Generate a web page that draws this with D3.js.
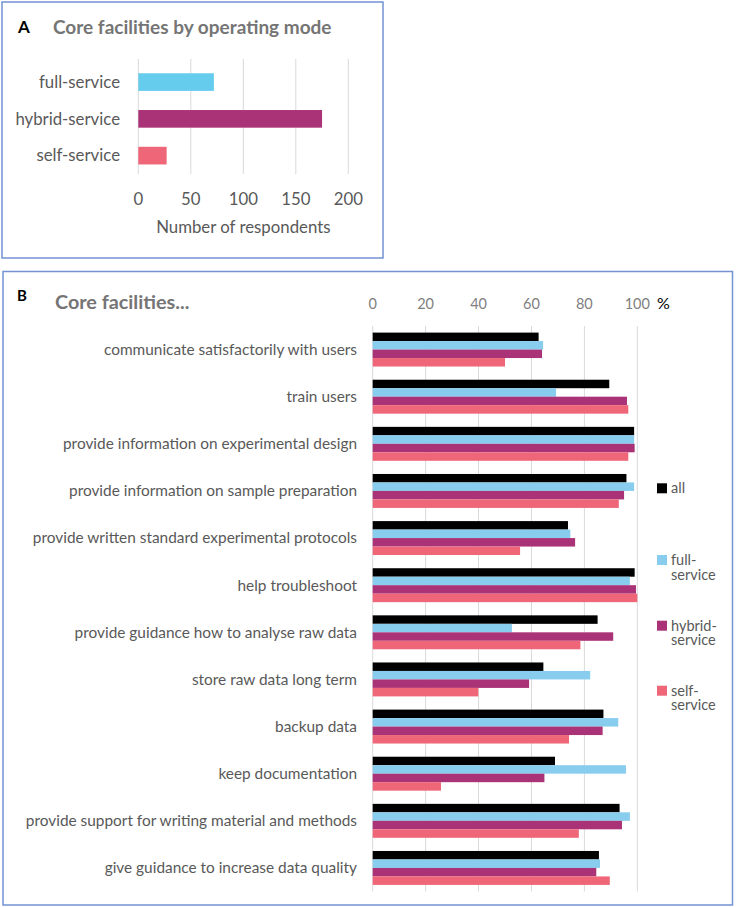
<!DOCTYPE html>
<html><head><meta charset="utf-8">
<script src="https://cdn.jsdelivr.net/npm/d3@7"></script>
<style>
html,body{margin:0;padding:0;background:#fff;}
svg{display:block;font-family:Lato,"Noto Sans",sans-serif;}
</style></head>
<body>
<svg id="chart" width="736" height="907"></svg>
<script>
// Panel A data
const modes = ["full-service", "hybrid-service", "self-service"];
const modeCounts = [72, 175, 27];
const modeColors = ["#66CCEE", "#AA3377", "#EE6677"];
const countTicks = [0, 50, 100, 150, 200];

// Panel B data
const activities = [
  "communicate satisfactorily with users",
  "train users",
  "provide information on experimental design",
  "provide information on sample preparation",
  "provide written standard experimental protocols",
  "help troubleshoot",
  "provide guidance how to analyse raw data",
  "store raw data long term",
  "backup data",
  "keep documentation",
  "provide support for writing material and methods",
  "give guidance to increase data quality"
];
const seriesNames = ["all", "full-service", "hybrid-service", "self-service"];
const legendLines = [["all"], ["full-", "service"], ["hybrid-", "service"], ["self-", "service"]];
const seriesColors = ["#000000", "#88CCEE", "#AA3377", "#EE6677"];
const allVals    = [62.7, 89.4, 98.8, 95.9, 73.8, 99.0, 85.0, 64.5, 87.2, 68.9, 93.3, 85.5];
const fullVals   = [64.4, 69.3, 98.8, 98.8, 74.7, 97.2, 52.6, 82.2, 92.8, 95.7, 97.2, 85.9];
const hybridVals = [64.0, 96.1, 99.0, 95.0, 76.5, 99.5, 90.9, 59.1, 86.9, 64.9, 94.2, 84.5];
const selfVals   = [50.0, 96.6, 96.6, 93.0, 55.7, 100, 78.5, 39.9, 74.2, 25.8, 77.9, 89.6];
const pctTicks = [0, 20, 40, 60, 80, 100];

const svg = d3.select("#chart");
const borderColor = "#7393D3";
const gridColor = "#D9D9D9";
const labelColor = "#595959";
const tickColor = "#7F7F7F";

// ---------- Panel A ----------
svg.append("rect").attr("x", 2).attr("y", 2).attr("width", 381).attr("height", 256)
  .attr("fill", "none").attr("stroke", borderColor).attr("stroke-width", 1.5);
svg.append("text").attr("x", 18).attr("y", 32.5).attr("font-weight", "bold").attr("font-size", 17)
  .attr("fill", "#000").text("A");
svg.append("text").attr("x", 53).attr("y", 34).attr("font-weight", "bold").attr("font-size", 19)
  .attr("fill", "#757575").text("Core facilities by operating mode");

const xA = d3.scaleLinear().domain([0, 200]).range([138.3, 348.3]);
const yA = d3.scaleBand().domain(modes).range([63.7, 174]).paddingInner(0.52).paddingOuter(0.26);
const gA = svg.append("g");
gA.selectAll("line.grid").data(countTicks).join("line")
  .attr("x1", d => xA(d)).attr("x2", d => xA(d)).attr("y1", 59).attr("y2", 174)
  .attr("stroke", gridColor).attr("stroke-width", 1);
gA.selectAll("rect.bar").data(modes).join("rect")
  .attr("x", xA(0)).attr("y", d => yA(d)).attr("height", yA.bandwidth())
  .attr("width", (d, i) => xA(modeCounts[i]) - xA(0))
  .attr("fill", (d, i) => modeColors[i]);
gA.selectAll("text.cat").data(modes).join("text")
  .attr("x", 120).attr("y", d => yA(d) + yA.bandwidth() / 2).attr("dy", "0.35em")
  .attr("text-anchor", "end").attr("font-size", 16.8).attr("fill", labelColor).text(d => d);
gA.selectAll("text.tick").data(countTicks).join("text")
  .attr("x", d => xA(d)).attr("y", 199).attr("dy", "0.35em")
  .attr("text-anchor", "middle").attr("font-size", 16.8).attr("fill", labelColor).text(d => d);
svg.append("text").attr("x", 243.3).attr("y", 227).attr("dy", "0.35em").attr("text-anchor", "middle")
  .attr("font-size", 16.8).attr("fill", labelColor).text("Number of respondents");

// ---------- Panel B ----------
svg.append("rect").attr("x", 3).attr("y", 271.5).attr("width", 729.5).attr("height", 633.5)
  .attr("fill", "none").attr("stroke", borderColor).attr("stroke-width", 1.5);
svg.append("text").attr("x", 17).attr("y", 301).attr("font-weight", "bold").attr("font-size", 15)
  .attr("fill", "#000").text("B");
svg.append("text").attr("x", 55).attr("y", 309).attr("font-weight", "bold").attr("font-size", 19.8)
  .attr("fill", "#757575").text("Core facilities...");

const xB = d3.scaleLinear().domain([0, 100]).range([372.7, 637.3]);
const yB = d3.scaleBand().domain(activities).range([326, 891.5]).paddingInner(0.28).paddingOuter(0.14);
const y4 = d3.scaleBand().domain(seriesNames).range([0, yB.bandwidth()]);
const gB = svg.append("g");
gB.selectAll("line.grid").data(pctTicks).join("line")
  .attr("x1", d => xB(d)).attr("x2", d => xB(d)).attr("y1", 326).attr("y2", 891.5)
  .attr("stroke", gridColor).attr("stroke-width", 1);
gB.selectAll("text.tick").data(pctTicks).join("text")
  .attr("x", d => xB(d)).attr("y", 309)
  .attr("text-anchor", "middle").attr("font-size", 14.5).attr("fill", tickColor).text(d => d);
svg.append("text").attr("x", 657).attr("y", 309)
  .attr("font-size", 16).attr("fill", "#000").text("%");

const seriesData = [allVals, fullVals, hybridVals, selfVals];
activities.forEach((a, i) => {
  const g = gB.append("g").attr("transform", `translate(0,${yB(a)})`);
  g.selectAll("rect").data(seriesNames).join("rect")
    .attr("x", xB(0)).attr("y", d => y4(d)).attr("height", y4.bandwidth())
    .attr("width", (d, j) => xB(seriesData[j][i]) - xB(0))
    .attr("fill", (d, j) => seriesColors[j]);
});
gB.selectAll("text.cat").data(activities).join("text")
  .attr("x", 357).attr("y", d => yB(d) + yB.bandwidth() / 2).attr("dy", "0.35em")
  .attr("text-anchor", "end").attr("font-size", 15.4).attr("fill", labelColor).text(d => d);

// Legend
const legendY = [488.3, 560, 625.7, 690.7];
const lg = svg.append("g");
seriesNames.forEach((s, i) => {
  lg.append("rect").attr("x", 657).attr("y", legendY[i] - 5).attr("width", 10).attr("height", 10)
    .attr("fill", seriesColors[i]);
  legendLines[i].forEach((ln, k) => {
    lg.append("text").attr("x", 671).attr("y", legendY[i] + k * 14.5).attr("dy", "0.35em")
      .attr("font-size", 14.5).attr("fill", labelColor).text(ln);
  });
});
</script>
</body></html>
